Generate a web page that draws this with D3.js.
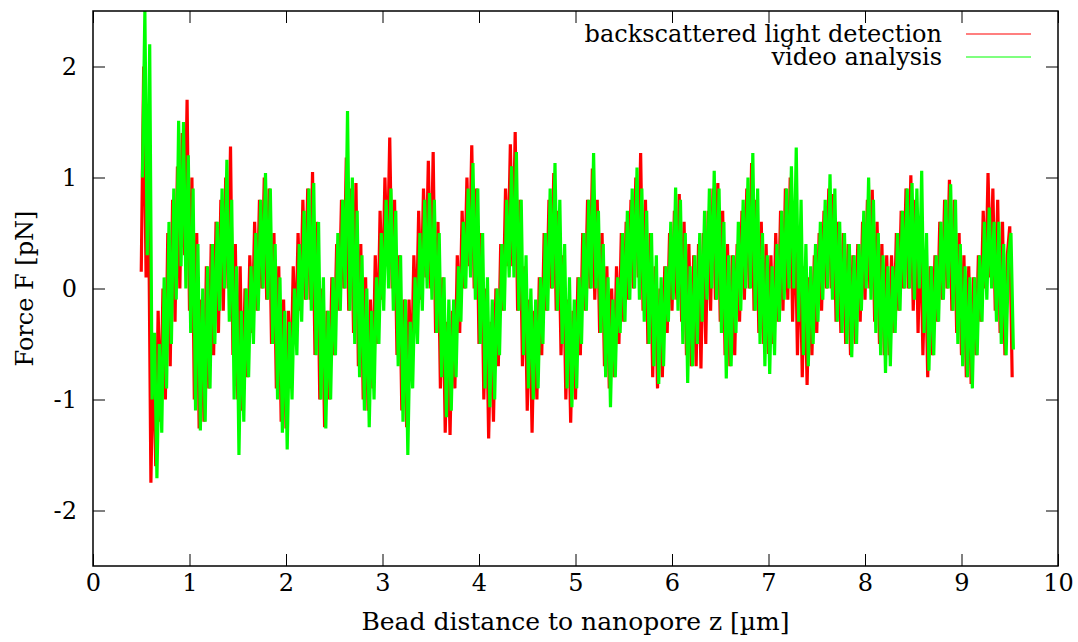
<!DOCTYPE html>
<html>
<head>
<meta charset="utf-8">
<script src="https://cdn.jsdelivr.net/npm/d3@7"></script>
<style>
  body { margin: 0; background: #fff; }
</style>
</head>
<body>
<svg id="chart" width="1078" height="642"></svg>
<script>
// axis ticks
const xTicks = [0, 1, 2, 3, 4, 5, 6, 7, 8, 9, 10];
const yTicks = [-2, -1, 0, 1, 2];

// series labels
const seriesNames = ["backscattered light detection", "video analysis"];

// sampling of the traces (bead distance z in µm)
const zStep = 0.025;
const backStart = 0.5;
const videoStart = 0.5125;

// force [pN] (backscattered light detection)
const backForce = [
  0.15, 2.0, 0.1, 0.9, -1.75, -0.5, -1.6, -0.2, -1.2, 0.0, -1.0, 0.5, -0.7, 0.8, -0.3, 1.1, 0.0, 1.4, 0.3, 1.7,
  -0.2, 1.0, -1.0, 0.5, -1.26, -0.1, -1.2, 0.2, -0.9, 0.4, -0.6, 0.6, -0.4, 0.8, -0.2, 1.0, 0.0, 1.28, -0.6, 0.4,
  -1.0, 0.2, -1.1, 0.0, -0.8, 0.3, -0.4, 0.6, -0.2, 0.8, 0.0, 1.0, -0.1, 0.9, -0.5, 0.5, -0.9, 0.2, -1.2, -0.1,
  -1.26, -0.2, -0.9, 0.2, -0.5, 0.5, -0.2, 0.8, -0.1, 0.9, -0.1, 1.05, -0.6, 0.6, -1.0, 0.0, -1.25, -0.2, -1.0, 0.1,
  -0.6, 0.4, -0.2, 0.8, 0.0, 1.18, -0.2, 0.9, -0.4, 0.95, -0.7, 0.4, -1.0, 0.1, -1.1, -0.1, -0.9, 0.3, -0.5, 0.7,
  -0.1, 1.0, 0.2, 1.36, 0.0, 0.8, -0.6, 0.3, -1.1, -0.1, -1.25, -0.1, -0.8, 0.3, -0.4, 0.7, -0.1, 0.9, 0.1, 1.15,
  0.0, 1.23, -0.4, 0.6, -0.9, 0.1, -1.3, -0.3, -1.32, -0.2, -0.9, 0.3, -0.4, 0.7, 0.0, 1.0, 0.2, 1.29, 0.0, 0.9,
  -0.5, 0.5, -1.0, 0.0, -1.35, -0.3, -1.2, 0.0, -0.7, 0.4, -0.2, 0.9, 0.2, 1.3, 0.2, 1.41, -0.2, 0.8, -0.7, 0.2,
  -1.1, -0.1, -1.3, -0.2, -1.0, 0.1, -0.6, 0.5, -0.2, 0.8, 0.0, 1.04, -0.2, 0.7, -0.6, 0.3, -1.0, -0.1, -1.21, -0.2,
  -1.0, 0.1, -0.6, 0.5, -0.2, 0.8, 0.0, 1.08, -0.1, 0.8, -0.4, 0.5, -0.7, 0.2, -0.9, 0.0, -0.8, 0.2, -0.5, 0.5,
  -0.3, 0.6, -0.1, 0.8, 0.0, 1.0, 0.1, 1.22, -0.2, 0.8, -0.5, 0.5, -0.8, 0.2, -0.9, 0.0, -0.8, 0.2, -0.4, 0.5,
  -0.2, 0.7, -0.1, 0.85, -0.3, 0.6, -0.6, 0.4, -0.7, 0.3, -0.7, 0.4, -0.72, 0.5, -0.5, 0.7, -0.2, 0.9, -0.1, 0.95,
  -0.3, 0.7, -0.6, 0.4, -0.7, 0.3, -0.6, 0.4, -0.3, 0.7, -0.1, 0.9, 0.0, 1.13, -0.2, 0.8, -0.4, 0.6, -0.5, 0.4,
  -0.59, 0.3, -0.5, 0.5, -0.3, 0.7, -0.2, 0.9, -0.1, 1.0, -0.3, 0.7, -0.6, 0.4, -0.8, 0.2, -0.87, 0.1, -0.6, 0.3,
  -0.4, 0.5, -0.2, 0.7, 0.0, 0.9, 0.0, 0.85, -0.3, 0.6, -0.4, 0.5, -0.5, 0.4, -0.6, 0.3, -0.5, 0.4, -0.3, 0.6,
  -0.1, 0.8, 0.0, 0.89, -0.3, 0.6, -0.5, 0.4, -0.6, 0.3, -0.6, 0.3, -0.4, 0.5, -0.2, 0.7, 0.0, 0.9, 0.0, 1.02,
  -0.2, 0.8, -0.4, 0.6, -0.6, 0.3, -0.8, 0.2, -0.6, 0.3, -0.3, 0.6, -0.1, 0.8, 0.0, 0.98, -0.2, 0.8, -0.4, 0.5,
  -0.6, 0.3, -0.8, 0.2, -0.86, 0.1, -0.6, 0.3, -0.3, 0.7, 0.0, 1.04, 0.1, 0.9, -0.2, 0.8, -0.4, 0.6, -0.6, 0.3,
  0.56, -0.8
];

// force [pN] (video analysis)
const videoForce = [
  1.0, 2.5, 0.3, 2.2, -1.0, -0.4, -1.71, -0.5, -1.3, 0.1, -0.9, 0.6, -0.5, 0.9, -0.1, 1.51, 0.2, 1.5, 0.0, 1.2,
  -0.4, 0.9, -1.1, 0.4, -1.28, 0.0, -1.2, 0.2, -0.9, 0.4, -0.5, 0.6, -0.2, 0.9, 0.0, 1.16, -0.3, 0.8, -1.0, 0.2,
  -1.5, -0.2, -1.2, 0.0, -0.8, 0.2, -0.5, 0.5, -0.2, 0.8, 0.0, 1.04, -0.1, 0.9, -0.5, 0.4, -1.0, 0.1, -1.3, -0.2,
  -1.45, -0.3, -1.0, 0.0, -0.6, 0.4, -0.3, 0.7, -0.1, 0.9, -0.2, 0.95, -0.6, 0.6, -1.0, 0.1, -1.26, -0.2, -1.0, 0.1,
  -0.6, 0.5, -0.2, 0.8, 0.0, 1.6, -0.2, 1.0, -0.5, 0.7, -0.8, 0.3, -1.1, 0.0, -1.25, -0.2, -1.0, 0.1, -0.5, 0.5,
  -0.2, 0.8, 0.0, 0.9, -0.2, 0.7, -0.7, 0.3, -1.2, -0.1, -1.5, -0.3, -0.9, 0.1, -0.5, 0.5, -0.2, 0.8, 0.0, 0.86,
  -0.1, 0.8, -0.4, 0.5, -0.8, 0.1, -1.16, -0.1, -1.1, -0.1, -0.8, 0.2, -0.3, 0.6, 0.0, 0.9, 0.1, 1.13, -0.1, 0.9,
  -0.5, 0.5, -0.9, 0.1, -1.07, -0.1, -1.0, 0.0, -0.6, 0.4, -0.2, 0.8, 0.1, 1.1, 0.1, 1.23, -0.2, 0.8, -0.6, 0.3,
  -0.9, 0.0, -1.0, -0.1, -0.9, 0.1, -0.5, 0.5, -0.2, 0.9, 0.0, 1.13, -0.2, 0.8, -0.5, 0.4, -0.9, 0.1, -1.07, -0.1,
  -0.9, 0.1, -0.5, 0.5, -0.2, 0.8, 0.0, 1.22, 0.0, 0.7, -0.4, 0.4, -0.8, 0.1, -1.07, -0.1, -0.8, 0.1, -0.4, 0.5,
  -0.3, 0.7, -0.1, 0.9, 0.0, 1.09, -0.1, 0.9, -0.3, 0.7, -0.5, 0.5, -0.7, 0.3, -0.86, 0.1, -0.7, 0.2, -0.3, 0.6,
  -0.1, 0.91, -0.2, 0.8, -0.5, 0.5, -0.85, 0.2, -0.7, 0.3, -0.5, 0.5, -0.3, 0.7, -0.1, 0.9, 0.0, 1.06, -0.1, 0.9,
  -0.4, 0.6, -0.81, 0.3, -0.7, 0.3, -0.4, 0.6, -0.2, 0.8, 0.0, 1.0, 0.0, 1.22, -0.2, 0.9, -0.5, 0.5, -0.7, 0.3,
  -0.77, 0.2, -0.6, 0.4, -0.3, 0.7, -0.1, 0.9, 0.0, 1.1, 0.0, 1.27, -0.3, 0.8, -0.6, 0.4, -0.7, 0.2, -0.5, 0.4,
  -0.3, 0.6, -0.1, 0.8, 0.0, 1.03, -0.1, 0.9, -0.3, 0.6, -0.4, 0.5, -0.5, 0.4, -0.62, 0.3, -0.5, 0.4, -0.2, 0.7,
  0.0, 1.0, -0.1, 0.8, -0.4, 0.5, -0.6, 0.3, -0.76, 0.2, -0.7, 0.2, -0.4, 0.5, -0.2, 0.7, 0.0, 0.9, 0.0, 0.95,
  -0.1, 0.9, 0.0, 1.06, -0.4, 0.5, -0.74, 0.2, -0.6, 0.3, -0.3, 0.6, -0.1, 0.8, 0.0, 0.94, -0.2, 0.8, -0.5, 0.4,
  -0.7, 0.2, -0.8, 0.1, -0.9, 0.1, -0.6, 0.3, -0.3, 0.6, -0.1, 0.73, 0.0, 0.6, -0.3, 0.6, -0.5, 0.4, -0.6, 0.3,
  0.5, -0.55
];

const colors = ["#ff0000", "#00ff00"];
const fontFamily = "'DejaVu Serif', 'Liberation Serif', serif";

// plot frame
const plotLeft = 93, plotRight = 1058, plotTop = 11, plotBottom = 566;
const svg = d3.select("#chart");

const x = d3.scaleLinear().domain([0, 10]).range([plotLeft, plotRight]);
const y = d3.scaleLinear().domain([-2.5, 2.5]).range([plotBottom, plotTop]);

// turn value arrays into points
const series = [
  backForce.map((f, i) => ({ z: backStart + i * zStep, f })),
  videoForce.map((f, i) => ({ z: videoStart + i * zStep, f }))
];

svg.append("clipPath").attr("id", "plot-clip")
  .append("rect")
  .attr("x", plotLeft).attr("y", plotTop)
  .attr("width", plotRight - plotLeft).attr("height", plotBottom - plotTop);

const line = d3.line()
  .x((d) => x(d.z))
  .y((d) => y(d.f));

svg.append("g")
  .attr("clip-path", "url(#plot-clip)")
  .selectAll("path")
  .data(series)
  .join("path")
  .attr("d", line)
  .attr("fill", "none")
  .attr("stroke", (d, i) => colors[i])
  .attr("stroke-width", 3.2)
  .attr("stroke-linejoin", "bevel");

// axes with inward ticks, mirrored on top and right
const tickLen = 12;
const styleAxis = (g) => {
  g.attr("font-family", null);
  g.select(".domain").remove();
  g.selectAll(".tick line").attr("stroke", "#000").attr("stroke-width", 1);
  g.selectAll("text")
    .style("font-family", fontFamily)
    .style("font-size", "24px")
    .attr("fill", "#000");
};

svg.append("g")
  .attr("transform", `translate(0,${plotBottom})`)
  .call(d3.axisBottom(x).tickValues(xTicks).tickSize(-tickLen).tickPadding(8).tickFormat((d) => String(d)))
  .call(styleAxis);

svg.append("g")
  .attr("transform", `translate(0,${plotTop})`)
  .call(d3.axisTop(x).tickValues(xTicks).tickSize(-tickLen).tickFormat(""))
  .call(styleAxis);

svg.append("g")
  .attr("transform", `translate(${plotLeft},0)`)
  .call(d3.axisLeft(y).tickValues(yTicks).tickSize(-tickLen).tickPadding(16).tickFormat((d) => String(d)))
  .call(styleAxis);

svg.append("g")
  .attr("transform", `translate(${plotRight},0)`)
  .call(d3.axisRight(y).tickValues(yTicks).tickSize(-tickLen).tickFormat(""))
  .call(styleAxis);

// border
svg.append("rect")
  .attr("x", plotLeft).attr("y", plotTop)
  .attr("width", plotRight - plotLeft).attr("height", plotBottom - plotTop)
  .attr("fill", "none")
  .attr("stroke", "#000")
  .attr("stroke-width", 1.5);

// axis titles
svg.append("text")
  .attr("x", (plotLeft + plotRight) / 2)
  .attr("y", 630)
  .attr("text-anchor", "middle")
  .style("font-family", fontFamily)
  .style("font-size", "25px")
  .text("Bead distance to nanopore z [µm]");

svg.append("text")
  .attr("transform", `translate(33,${(plotTop + plotBottom) / 2}) rotate(-90)`)
  .attr("text-anchor", "middle")
  .style("font-family", fontFamily)
  .style("font-size", "24px")
  .text("Force F [pN]");

// legend
const legend = svg.append("g")
  .selectAll("g")
  .data(seriesNames)
  .join("g")
  .attr("transform", (d, i) => `translate(0,${34 + i * 23})`);

legend.append("text")
  .attr("x", 942)
  .attr("dy", "0.32em")
  .attr("text-anchor", "end")
  .style("font-family", fontFamily)
  .style("font-size", "24px")
  .text((d) => d);

legend.append("line")
  .attr("x1", 966).attr("x2", 1031)
  .attr("stroke", (d, i) => colors[i])
  .attr("stroke-width", 1.2);
</script>
</body>
</html>
